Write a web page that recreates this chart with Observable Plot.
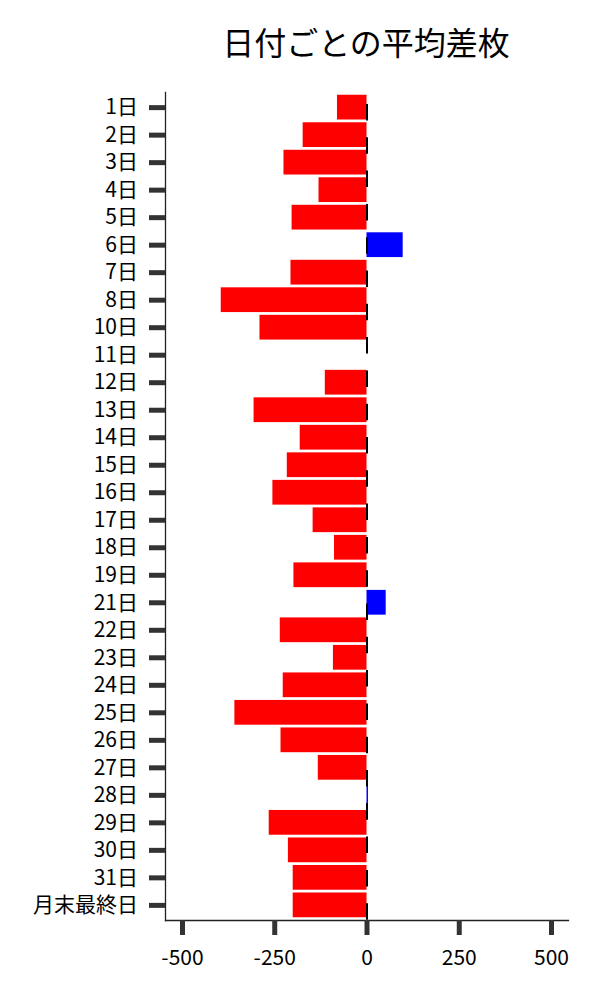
<!DOCTYPE html>
<html>
<head>
<meta charset="utf-8">
<script src="https://cdn.jsdelivr.net/npm/d3@7"></script>
<script src="https://cdn.jsdelivr.net/npm/@observablehq/plot@0.6"></script>
<style>
  html, body { margin: 0; padding: 0; background: #fff; }
  #title {
    width: 600px; height: 86px; line-height: 82px; box-sizing: border-box;
    padding-left: 132px; text-align: center; overflow: hidden;
    font-family: "Noto Sans CJK JP", sans-serif; font-size: 32px; color: #000;
  }
</style>
</head>
<body>
<div id="title">日付ごとの平均差枚</div>
<div id="chart"></div>
<script>
const days = ["1日","2日","3日","4日","5日","6日","7日","8日","10日","11日","12日","13日","14日","15日","16日","17日","18日","19日","21日","22日","23日","24日","25日","26日","27日","28日","29日","30日","31日","月末最終日"];
const values = [-80,-173,-225,-130,-203,98,-206,-395,-290,0,-113,-306,-181,-216,-255,-146,-88,-198,52,-235,-91,-227,-358,-233,-132,4,-265,-213,-200,-200];
const xTicks = [-500,-250,0,250,500];

const data = days.map((d, i) => ({day: d, value: values[i]}));

const chart = Plot.plot({
  width: 600,
  height: 914,
  marginTop: 6,
  marginBottom: 80,
  marginLeft: 165,
  marginRight: 32,
  style: {fontFamily: "'Noto Sans CJK JP', sans-serif", fontSize: "21px", background: "#fff", color: "#000"},
  x: {domain: [-546, 546]},
  y: {domain: days, padding: 0.1, round: false},
  marks: [
    Plot.barX(data, {filter: d => d.value < 0, x: "value", y: "day", fill: "#ff0000"}),
    Plot.barX(data, {filter: d => d.value >= 0, x: "value", y: "day", fill: "#0000ff"}),
    Plot.ruleX([0], {stroke: "#000", strokeWidth: 2, strokeDasharray: "16.5,16.8", strokeDashoffset: 21.3}),
    Plot.frame({anchor: "left", stroke: "#222", strokeWidth: 1.3}),
    Plot.frame({anchor: "bottom", stroke: "#222", strokeWidth: 1.3}),
    Plot.axisY({tickSize: 16, tickPadding: 11.5, stroke: "#333", strokeWidth: 5, fill: "#000", fontSize: 21, label: null}),
    Plot.axisX({ticks: xTicks, tickFormat: d => String(d), tickSize: 15, tickPadding: 15, stroke: "#333", strokeWidth: 5, fill: "#000", fontSize: 21, label: null})
  ]
});
document.getElementById("chart").appendChild(chart);
</script>
</body>
</html>
